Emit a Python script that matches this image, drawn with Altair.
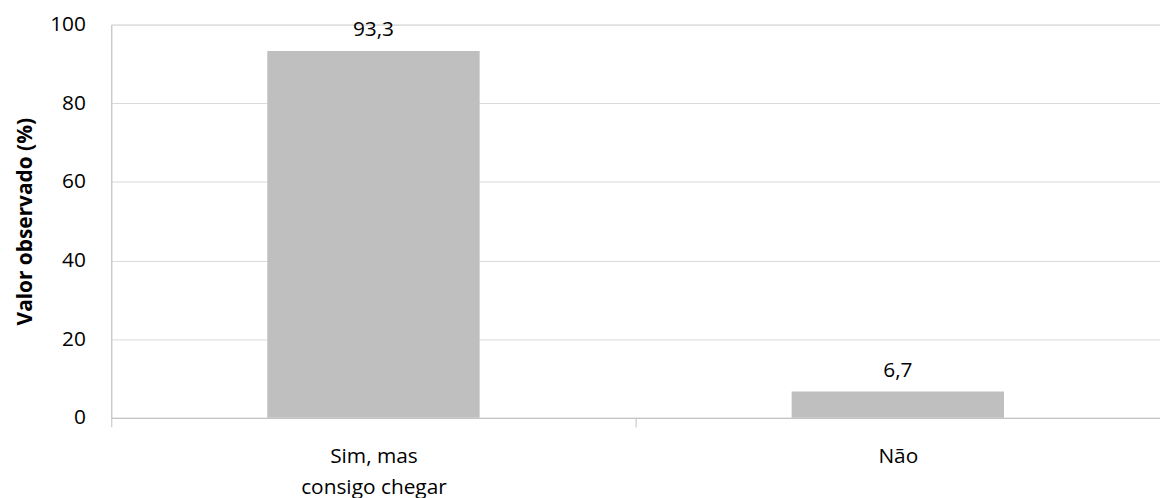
import altair as alt
import pandas as pd

categories = ["Sim, mas consigo chegar", "Não"]
values = [93.3, 6.7]
value_labels = ["93,3", "6,7"]

df = pd.DataFrame({"cat": categories, "val": values, "lab": value_labels})

FONT = "Open Sans"

x = alt.X(
    "cat:N",
    sort=categories,
    title=None,
    scale=alt.Scale(paddingInner=0, paddingOuter=0),
    axis=alt.Axis(
        tickBand="extent",
        labelAngle=0,
        labelFont=FONT,
        labelFontSize=21,
        labelColor="#000000",
        labelPadding=19,
        labelLineHeight=31,
        labelExpr="datum.label == 'Sim, mas consigo chegar' ? ['Sim, mas', 'consigo chegar'] : datum.label",
        domainColor="#BFBFBF",
        tickColor="#BFBFBF",
        tickSize=9,
        grid=False,
    ),
)

y = alt.Y(
    "val:Q",
    title="Valor observado (%)",
    scale=alt.Scale(domain=[0, 100], nice=False),
    axis=alt.Axis(
        values=[0, 20, 40, 60, 80, 100],
        labelFont=FONT,
        labelFontSize=21,
        labelColor="#000000",
        labelPadding=26,
        ticks=False,
        domainColor="#BFBFBF",
        gridColor="#D9D9D9",
        titleFont=FONT,
        titleFontSize=21,
        titleFontWeight="bold",
        titleColor="#000000",
        titlePadding=14,
    ),
)

bars = alt.Chart(df).mark_bar(color="#BFBFBF", width=alt.RelativeBandSize(0.405)).encode(x=x, y=y)

text = alt.Chart(df).mark_text(
    font=FONT, fontSize=21, color="#000000", baseline="alphabetic", dy=-15
).encode(x=alt.X("cat:N", sort=categories), y="val:Q", text="lab:N")

chart = (
    alt.layer(bars, text)
    .properties(
        width=1056,
        height=396,
        autosize=alt.AutoSizeParams(type="none"),
        padding={"left": 104, "top": 15, "right": 0, "bottom": 80},
    )
    .configure_view(stroke=None)
    .configure(background="white")
)

chart.save("out.html", embed_options={"renderer": "svg", "actions": False})
